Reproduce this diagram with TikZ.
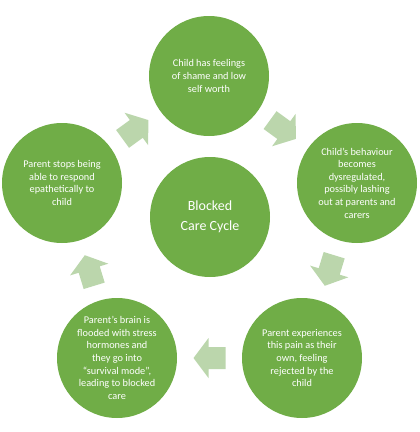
\documentclass[tikz,border=0pt]{standalone}
\usepackage{fontspec}
\setmainfont{Carlito}
\usetikzlibrary{calc}
\definecolor{circgreen}{HTML}{70AD47}
\definecolor{arrowgreen}{HTML}{BBD6AC}
\tikzset{
  stage/.style={circle, fill=circgreen, minimum size=120pt, inner sep=0pt, text=white, align=center,
    font=\fontsize{10.3}{12.6}\selectfont},
  hub/.style={stage, font=\fontsize{14}{20}\selectfont},
  blockarrow/.pic={\fill[arrowgreen] (-16,-11) -- (1,-11) -- (1,-20) -- (16,0) -- (1,20) -- (1,11) -- (-16,11) -- cycle;}
}
\begin{document}
\begin{tikzpicture}[x=1pt,y=-1pt]
\useasboundingbox (0,0) rectangle (420,432);
\node[stage] (top) at (209,76) {Child has feelings\\of shame and low\\self worth};
\node[stage] (right) at (357,183) {Child's behaviour\\becomes\\dysregulated,\\possibly lashing\\out at parents and\\carers};
\node[stage] (br) at (302,358) {Parent experiences\\this pain as their\\own, feeling\\rejected by the\\child};
\node[stage] (bl) at (117,358) {Parent's brain is\\flooded with stress\\hormones and\\they go into\\``survival mode'',\\leading to blocked\\care};
\node[stage] (left) at (62,183) {Parent stops being\\able to respond\\epathetically to\\child};
\node[hub] (hub) at (210,217) {Blocked\\Care Cycle};
\path ($(left)!0.5!(top)$) pic[rotate=36] {blockarrow};
\path ($(top)!0.5!(right)$) pic[rotate=-36] {blockarrow};
\path ($(right)!0.5!(br)$) pic[rotate=-107] {blockarrow};
\path ($(br)!0.5!(bl)$) pic[rotate=180] {blockarrow};
\path ($(bl)!0.5!(left)$) pic[rotate=107] {blockarrow};
\end{tikzpicture}
\end{document}
